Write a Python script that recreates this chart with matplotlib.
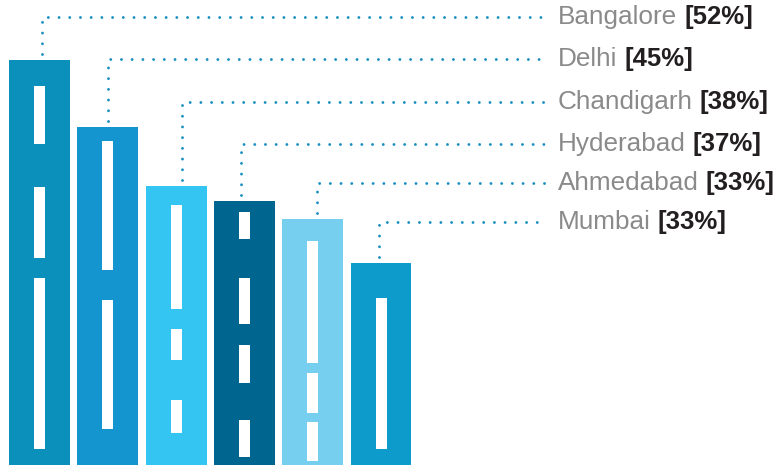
import matplotlib
matplotlib.use("Agg")
import matplotlib.pyplot as plt

# ---- data ----
cities = ["Bangalore", "Delhi", "Chandigarh", "Hyderabad", "Ahmedabad", "Mumbai"]
shares = [52, 45, 38, 37, 33, 33]
# building heights as drawn (same units as the % scale)
building_heights = [52.0, 43.4, 35.8, 33.9, 31.6, 25.9]
# white window strips per building: (bottom, top) in the same units
windows = [
    [(41.2, 48.6), (26.6, 35.7), (2.0, 24.0)],
    [(25.0, 41.6), (4.6, 21.2)],
    [(20.0, 33.4), (13.5, 17.5), (4.1, 8.3)],
    [(29.0, 32.5), (18.1, 24.0), (10.5, 15.4), (1.0, 5.8)],
    [(13.1, 28.8), (6.7, 11.8), (0.5, 5.5)],
    [(2.0, 21.4)],
]
colors = ["#0b8fbb", "#1495d0", "#34c5f3", "#01668f", "#76cfef", "#0d9bcb"]

plt.rcParams["font.family"] = ["Liberation Sans", "DejaVu Sans"]
plt.rcParams["lines.scale_dashes"] = False

fig = plt.figure(figsize=(7.8, 4.67), dpi=100)
ax = fig.add_axes([0, 0, 1, 1])
ax.set_axis_off()

px_per_x = 68.3
px_per_y = 7.79
ax.set_xlim(-39.5 / px_per_x, (780 - 39.5) / px_per_x)
ax.set_ylim(-2 / px_per_y, 465 / px_per_y)

x = list(range(len(cities)))
ax.bar(x, building_heights, width=0.893, color=colors, zorder=2)

win_w = 11 / px_per_x
for i, spans in enumerate(windows):
    bottoms = [a for a, b in spans]
    hs = [b - a for a, b in spans]
    ax.bar([i] * len(spans), hs, bottom=bottoms, width=win_w, color="white", zorder=3)

# leader lines and labels
dot_color = "#1a8fc0"
label_y_px = [17, 59, 102, 144, 183, 222]
vx_off_px = [2.5, 0.5, 6, -3.5, 4.5, -2]
line_end_x = (547 - 39.5) / px_per_x
text_x = (558 - 39.5) / px_per_x
ls = (0, (0.01, 7.7))
for i, city in enumerate(cities):
    ly = (465 - label_y_px[i]) / px_per_y
    vx = i + vx_off_px[i] / px_per_x
    top = building_heights[i] + 6 / px_per_y
    ax.plot([vx, vx, line_end_x], [top, ly, ly], color=dot_color, lw=2.1,
            linestyle=ls, dash_capstyle="round", solid_capstyle="round", zorder=1)
    t1 = ax.text(text_x, ly, city, fontsize=18.8, color="#8a8a8a",
                 ha="left", va="center")
    ax.annotate(f"[{shares[i]}%]", xy=(1, 0), xycoords=t1, xytext=(5, 0),
                textcoords="offset points", ha="left", va="bottom",
                fontsize=18.5, fontweight="bold", color="#231f20")

fig.savefig("out.png", dpi=100)
